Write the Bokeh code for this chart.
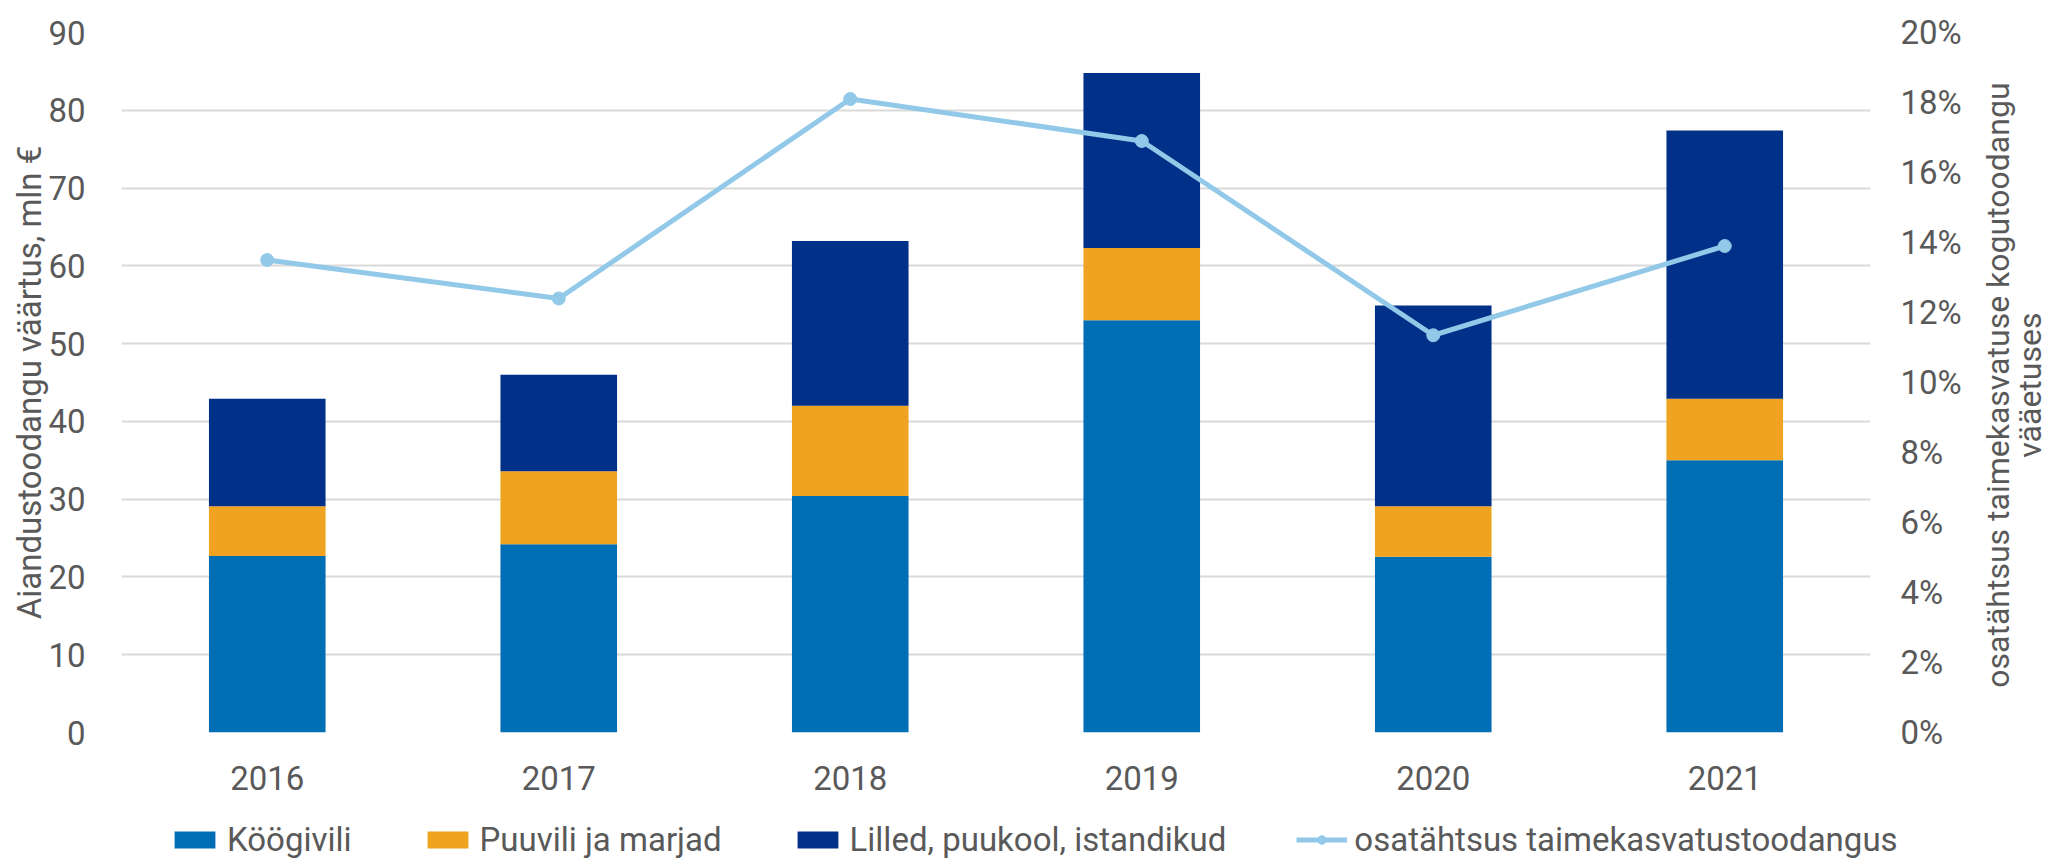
import math
from bokeh.plotting import figure
from bokeh.layouts import column, row
from bokeh.models import (ColumnDataSource, LinearAxis, Range1d, FactorRange, Legend, LegendItem,
                          NumeralTickFormatter, FixedTicker)
from bokeh.core.properties import value
from bokeh.embed import file_html
from bokeh.resources import INLINE

years = ["2016", "2017", "2018", "2019", "2020", "2021"]
kogivili = [22.7, 24.2, 30.4, 53.0, 22.6, 35.0]
puuvili = [6.4, 9.4, 11.6, 9.3, 6.5, 7.9]
lilled = [13.8, 12.4, 21.2, 22.5, 25.8, 34.5]
osatahtsus = [0.135, 0.124, 0.181, 0.169, 0.1135, 0.139]

series = ["Köögivili", "Puuvili ja marjad", "Lilled, puukool, istandikud"]
line_name = "osatähtsus taimekasvatustoodangus"
left_title = "Aiandustoodangu väärtus, mln €"
right_title = ["osatähtsus taimekasvatuse kogutoodangu", "vääetuses"]
colors = ["#006EB5", "#F0A221", "#003087"]
line_color = "#92C8E8"
FONT = "Roboto"
TXT = "#595959"
NAN = float("nan")

src = ColumnDataSource(data=dict(
    x=years,
    **{"Köögivili": kogivili, "Puuvili ja marjad": puuvili,
       "Lilled, puukool, istandikud": lilled},
    share=osatahtsus))

P_W, P_H = 1980, 808
p = figure(x_range=FactorRange(*years, range_padding=0.0), y_range=Range1d(0, 90),
           width=P_W, height=P_H, output_backend="svg", toolbar_location=None,
           min_border_left=121, min_border_right=110, min_border_top=32, min_border_bottom=76)
p.outline_line_color = None
p.background_fill_color = "white"
p.border_fill_color = "white"

renderers = p.vbar_stack(series, x="x", width=0.4, source=src, color=colors,
                         line_color=None)

p.extra_y_ranges = {"pct": Range1d(0, 0.20)}
line_r = p.line("x", "share", source=src, y_range_name="pct", line_color=line_color,
                line_width=5)
pts_r = p.scatter("x", "share", source=src, y_range_name="pct", size=13,
                  fill_color=line_color, line_color=line_color)

# left axis
ax = p.yaxis[0]
ax.ticker = FixedTicker(ticks=list(range(0, 100, 10)))
ax.axis_line_color = None
ax.major_tick_line_color = None
ax.minor_tick_line_color = None
ax.major_label_text_font = FONT
ax.major_label_text_font_size = "33px"
ax.major_label_text_color = TXT
ax.major_label_standoff = 30
ax.axis_label = left_title
ax.axis_label_text_font = FONT
ax.axis_label_text_font_size = "33px"
ax.axis_label_text_font_style = "normal"
ax.axis_label_text_color = TXT
ax.axis_label_standoff = -4

# right axis (title drawn separately)
rax = LinearAxis(y_range_name="pct", ticker=FixedTicker(ticks=[i / 100 for i in range(0, 22, 2)]),
                 formatter=NumeralTickFormatter(format="0%"))
rax.axis_line_color = None
rax.major_tick_line_color = None
rax.minor_tick_line_color = None
rax.major_label_text_font = FONT
rax.major_label_text_font_size = "33px"
rax.major_label_text_color = TXT
rax.major_label_standoff = 24
p.add_layout(rax, "right")

# x axis
xa = p.xaxis[0]
xa.axis_line_color = None
xa.major_tick_line_color = None
xa.minor_tick_line_color = None
xa.major_label_text_font = FONT
xa.major_label_text_font_size = "33px"
xa.major_label_text_color = TXT
xa.major_label_standoff = 27

p.xgrid.grid_line_color = None
p.ygrid.grid_line_color = "#D9D9D9"
p.ygrid.grid_line_width = 2
p.ygrid.ticker = FixedTicker(ticks=list(range(0, 100, 10)))

# right-axis title panel
T_W = 2049 - P_W
tf = figure(width=T_W, height=P_H, output_backend="svg", toolbar_location=None,
            x_range=Range1d(0, T_W), y_range=Range1d(0, P_H),
            x_axis_location=None, y_axis_location=None,
            min_border_left=0, min_border_right=0, min_border_top=0, min_border_bottom=0)
tf.outline_line_color = None
tf.grid.visible = False
tf.text(x=[17, 49], y=[401, 401], text=right_title, angle=math.pi / 2,
        text_align="center", text_baseline="middle",
        text_font=value(FONT), text_font_size="32px", text_color=TXT)

# legend panel
lf = figure(width=2049, height=50, output_backend="svg", toolbar_location=None,
            x_range=Range1d(0, 1), y_range=Range1d(0, 1),
            x_axis_location=None, y_axis_location=None,
            min_border_left=0, min_border_right=0, min_border_top=0, min_border_bottom=0)
lf.outline_line_color = None
lf.grid.visible = False
leg_r = [lf.vbar(x=[NAN], top=[NAN], width=0.1, color=c, line_color=None) for c in colors]
leg_line = lf.line(x=[NAN], y=[NAN], line_color=line_color, line_width=5)
leg_pts = lf.scatter(x=[NAN], y=[NAN], size=13, fill_color=line_color, line_color=line_color)
items = [LegendItem(label=s, renderers=[r]) for s, r in zip(series, leg_r)]
items.append(LegendItem(label=line_name, renderers=[leg_line, leg_pts]))
legend = Legend(items=items, orientation="horizontal", location=(169, -1),
                glyph_width=51, glyph_height=21, label_standoff=7, spacing=70,
                padding=0, margin=0, border_line_color=None, background_fill_alpha=0,
                label_text_font=FONT, label_text_font_size="33px", label_text_color=TXT,
                label_height=21)
lf.add_layout(legend, "center")

layout = column(row(p, tf, spacing=0), lf, spacing=0)
open("out.html", "w").write(file_html(layout, INLINE))
